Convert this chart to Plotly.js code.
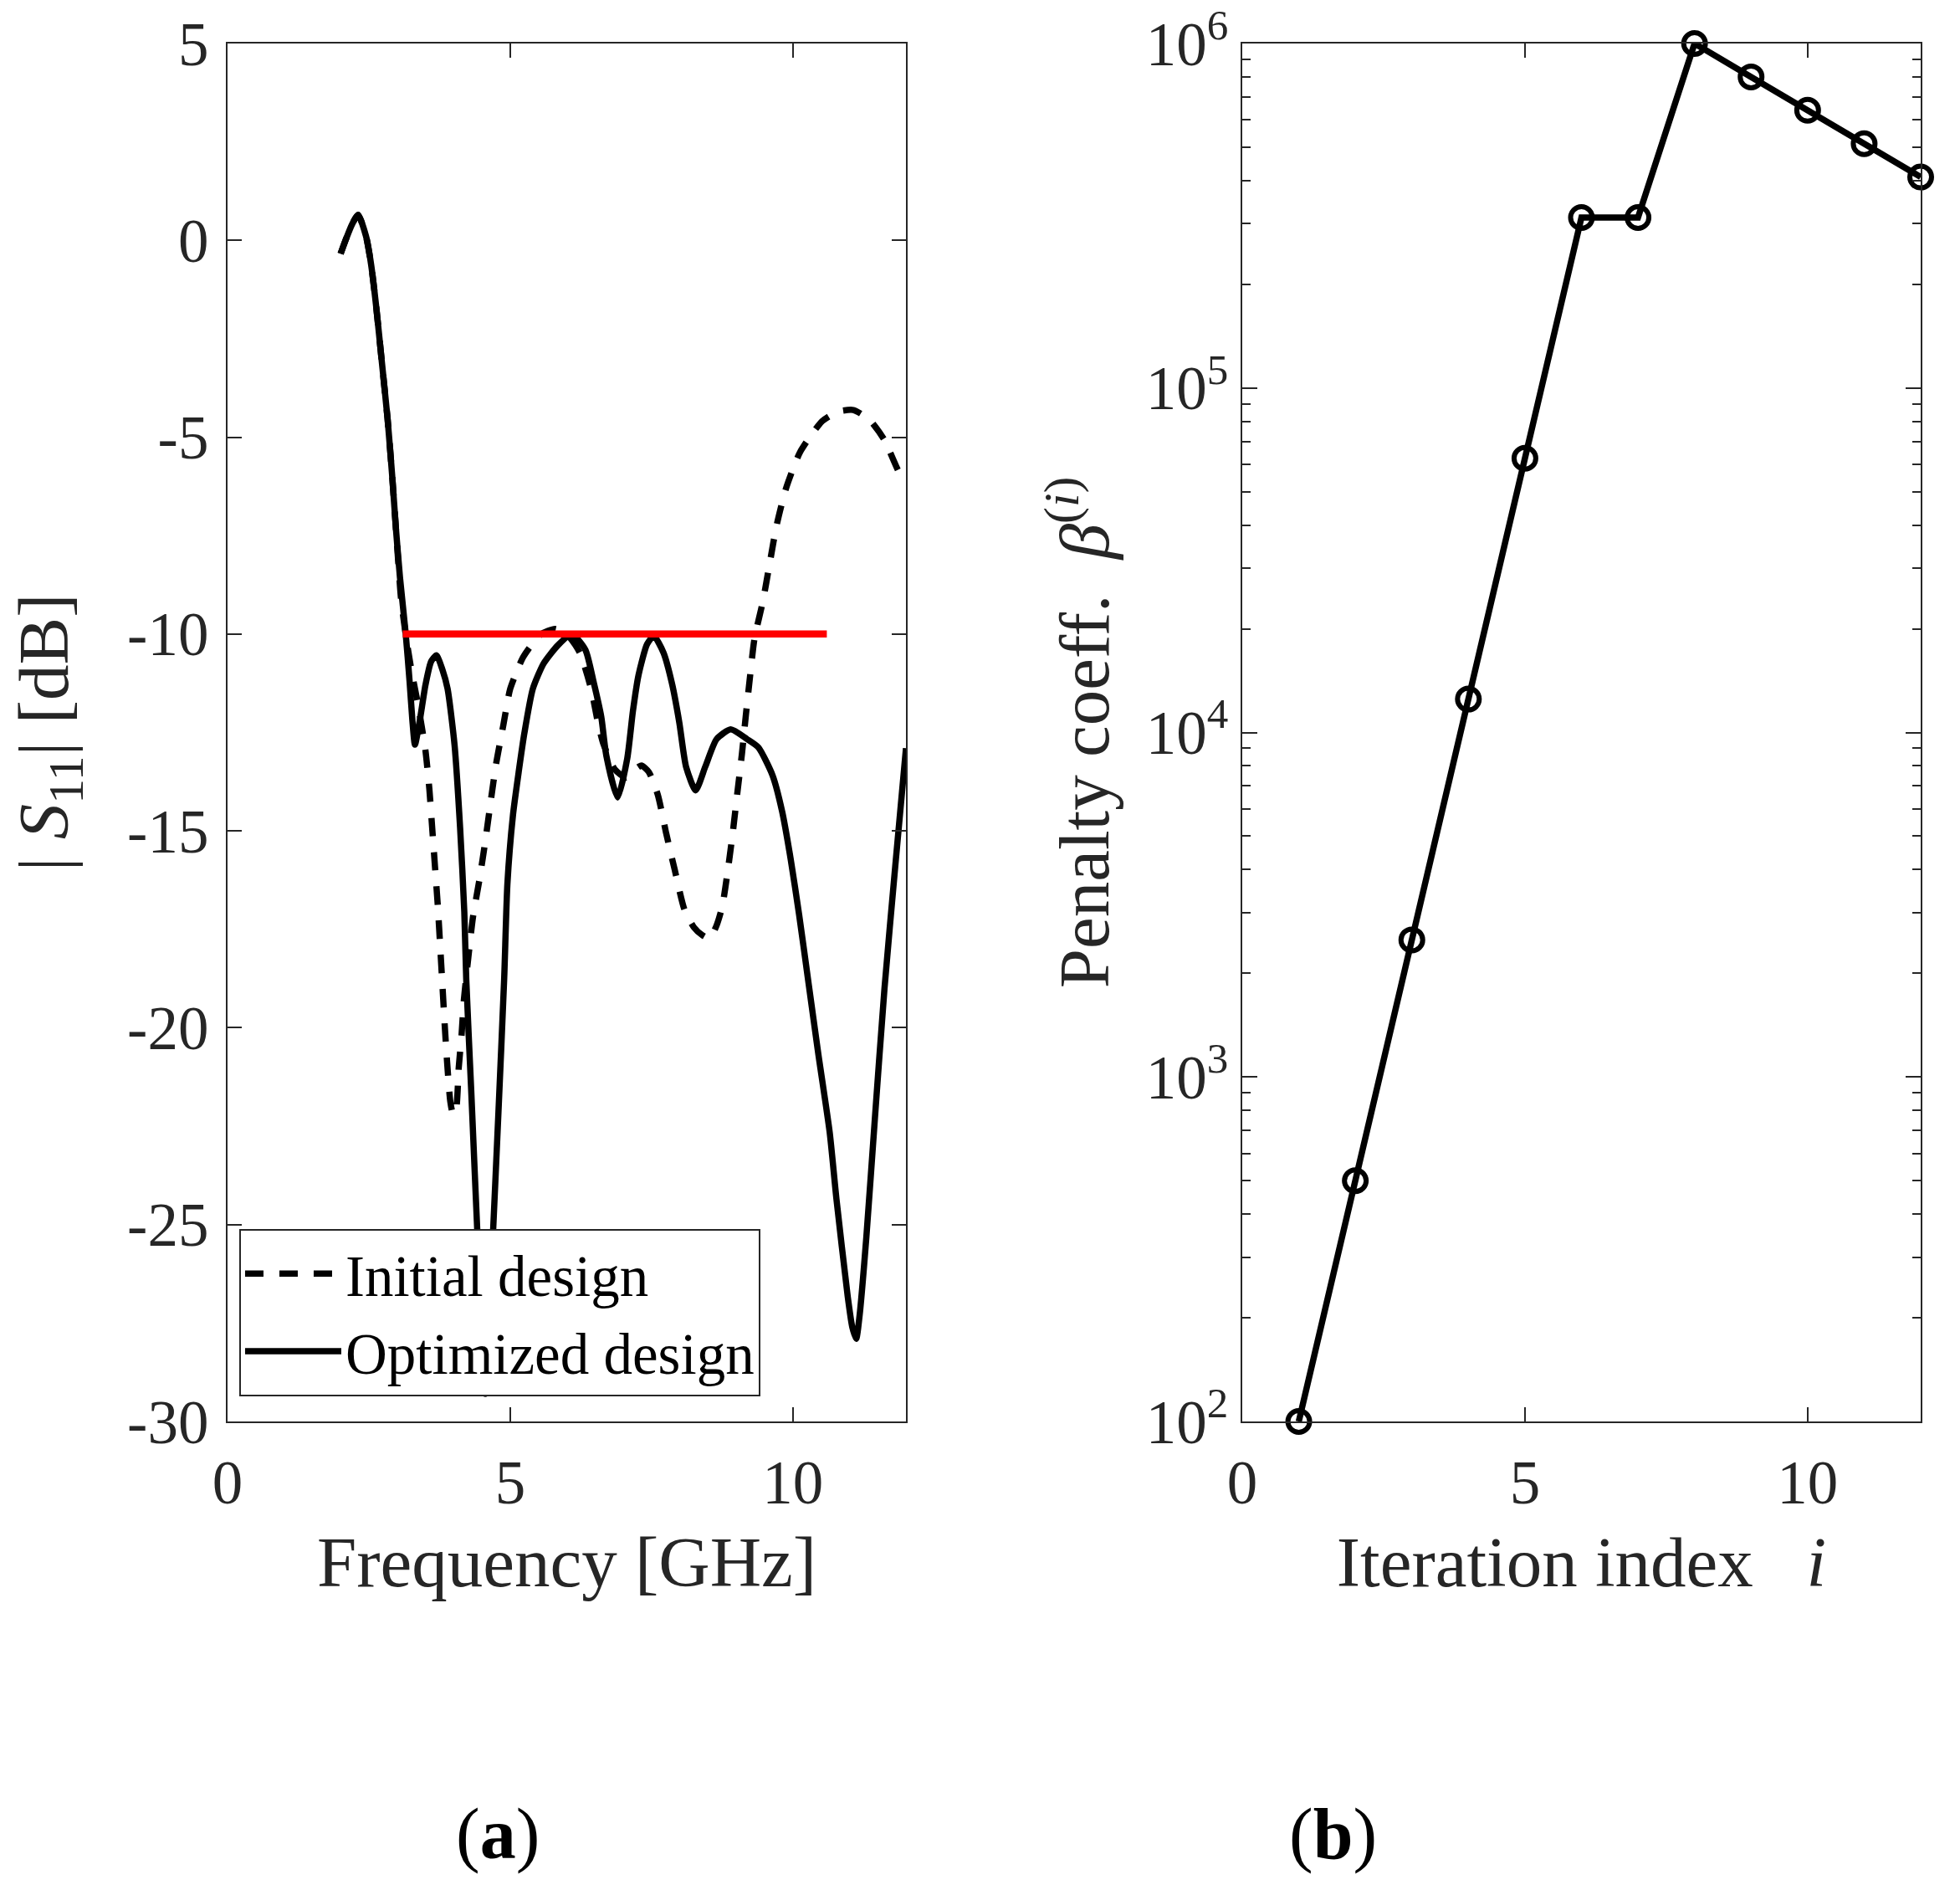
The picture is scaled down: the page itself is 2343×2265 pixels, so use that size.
<!DOCTYPE html>
<html>
<head>
<meta charset="utf-8">
<script src="https://cdn.plot.ly/plotly-3.0.1.min.js"></script>
<style>
  html, body { margin: 0; padding: 0; background: #ffffff; }
  #chart { width: 2343px; height: 2265px; }
</style>
</head>
<body>
<div id="chart"></div>
<script>
// ---- Panel (a): |S11| vs frequency ----
const freqInitial = [2.0, 2.1, 2.2, 2.31, 2.45, 2.54, 2.63, 2.73, 2.83, 2.91, 2.98, 3.07, 3.15, 3.25, 3.37, 3.5, 3.57, 3.62, 3.67, 3.72, 3.76, 3.8, 3.84, 3.88, 3.94, 3.99, 4.04, 4.09, 4.14, 4.18, 4.26, 4.34, 4.46, 4.56, 4.66, 4.75, 4.88, 5.0, 5.22, 5.35, 5.55, 5.79, 6.0, 6.23, 6.43, 6.56, 6.65, 6.85, 7.05, 7.2, 7.32, 7.45, 7.61, 7.76, 7.91, 8.08, 8.25, 8.4, 8.53, 8.65, 8.75, 8.85, 8.94, 9.02, 9.1, 9.17, 9.24, 9.32, 9.47, 9.59, 9.71, 9.88, 10.13, 10.52, 10.8, 11.07, 11.35, 11.61, 11.88, 12.0];
const s11Initial = [-0.34, 0.05, 0.4, 0.65, 0.1, -0.62, -1.69, -3.1, -4.52, -5.94, -7.35, -9.12, -10.0, -10.9, -11.8, -12.95, -13.94, -14.93, -15.92, -16.92, -17.9, -18.9, -19.9, -20.8, -21.87, -22.2, -22.1, -21.0, -20.17, -19.3, -18.2, -17.2, -16.2, -15.25, -14.2, -13.3, -12.3, -11.39, -10.61, -10.33, -10.0, -9.87, -10.0, -10.47, -11.39, -12.31, -12.8, -13.44, -13.65, -13.45, -13.34, -13.5, -14.08, -15.07, -15.99, -16.99, -17.45, -17.65, -17.73, -17.4, -16.92, -15.99, -15.0, -14.0, -13.02, -12.03, -11.1, -10.12, -9.16, -8.2, -7.25, -6.29, -5.37, -4.59, -4.35, -4.31, -4.55, -5.05, -5.9, -6.15];

const freqOptimized = [2.0, 2.1, 2.2, 2.31, 2.45, 2.54, 2.63, 2.73, 2.83, 2.91, 2.98, 3.05, 3.15, 3.22, 3.27, 3.315, 3.4, 3.5, 3.6, 3.695, 3.8, 3.892, 4.015, 4.114, 4.188, 4.222, 4.31, 4.434, 4.56, 4.68, 4.79, 4.893, 4.95, 5.05, 5.15, 5.25, 5.4, 5.59, 5.84, 6.09, 6.33, 6.48, 6.61, 6.7, 6.9, 7.07, 7.17, 7.27, 7.42, 7.54, 7.71, 7.86, 7.99, 8.11, 8.28, 8.45, 8.65, 8.9, 9.19, 9.39, 9.64, 9.81, 9.96, 10.11, 10.28, 10.45, 10.65, 10.77, 10.97, 11.05, 11.12, 11.18, 11.3, 11.45, 11.62, 11.81, 12.0];
const s11Optimized = [-0.34, 0.05, 0.4, 0.65, 0.1, -0.62, -1.69, -3.1, -4.52, -5.94, -7.35, -8.56, -9.97, -11.2, -12.2, -12.81, -12.2, -11.3, -10.7, -10.54, -10.9, -11.39, -12.81, -14.93, -17.06, -18.76, -21.59, -25.7, -29.3, -25.7, -22.2, -18.76, -16.35, -14.58, -13.5, -12.52, -11.39, -10.75, -10.29, -10.0, -10.4, -11.25, -12.1, -13.09, -14.15, -13.16, -11.96, -11.04, -10.26, -10.05, -10.47, -11.25, -12.24, -13.37, -13.97, -13.37, -12.67, -12.42, -12.67, -12.88, -13.59, -14.51, -15.71, -17.13, -18.9, -20.67, -22.65, -24.35, -26.83, -27.6, -27.9, -27.3, -25.3, -22.3, -19.0, -15.9, -12.9];

const specFreq = [3.1, 10.6];
const specLevel = [-10, -10];

const freqTicks = [0, 5, 10];
const s11Ticks = [5, 0, -5, -10, -15, -20, -25, -30];
const s11TickText = ['5', '0', '-5', '-10', '-15', '-20', '-25', '-30'];

// ---- Panel (b): penalty coefficient vs iteration ----
const iteration = [1, 2, 3, 4, 5, 6, 7, 8, 9, 10, 11, 12];
const penaltyCoeff = [100, 500, 2500, 12500, 62500, 312500, 312500, 1000000, 800000, 640000, 512000, 409600];
const iterTicks = [0, 5, 10];
const penaltyTicks = [100, 1000, 10000, 100000, 1000000];
const penaltyTickText = ['10<sup>2</sup>', '10<sup>3</sup>', '10<sup>4</sup>', '10<sup>5</sup>', '10<sup>6</sup>'];

const FONT = 'Liberation Serif, Times New Roman, serif';
const INK = '#262626';

const traces = [
  { x: freqInitial, y: s11Initial, type: 'scatter', mode: 'lines', name: 'Initial design',
    line: { color: '#000000', width: 7.5, dash: '22px,19px', shape: 'spline', smoothing: 0.6 }, xaxis: 'x', yaxis: 'y' },
  { x: freqOptimized, y: s11Optimized, type: 'scatter', mode: 'lines', name: 'Optimized design',
    line: { color: '#000000', width: 7.5, shape: 'spline', smoothing: 0.6 }, xaxis: 'x', yaxis: 'y' },
  { x: specFreq, y: specLevel, type: 'scatter', mode: 'lines', name: 'spec', showlegend: false,
    line: { color: '#ff0000', width: 8.5 }, xaxis: 'x', yaxis: 'y' },
  { x: iteration, y: penaltyCoeff, type: 'scatter', mode: 'lines+markers', showlegend: false,
    line: { color: '#000000', width: 7.5 },
    marker: { symbol: 'circle-open', size: 26, color: '#000000', line: { width: 6, color: '#000000' } },
    xaxis: 'x2', yaxis: 'y2', cliponaxis: false }
];

const axisCommon = {
  showline: true, linewidth: 2, linecolor: INK, mirror: 'ticks',
  ticks: 'inside', ticklen: 17, tickwidth: 2, tickcolor: INK,
  showgrid: false, zeroline: false,
  tickfont: { family: FONT, size: 73, color: INK }
};

const layout = {
  width: 2343, height: 2265,
  margin: { l: 272, r: 47, t: 52, b: 566 },
  paper_bgcolor: '#ffffff', plot_bgcolor: '#ffffff',
  font: { family: FONT, color: INK },
  showlegend: true,
  legend: {
    x: 0.0069, y: 0.0182, xanchor: 'left', yanchor: 'bottom',
    bgcolor: '#ffffff', bordercolor: INK, borderwidth: 2,
    font: { family: FONT, size: 69, color: '#000000' },
    itemwidth: 115, tracegroupgap: 0
  },
  xaxis: Object.assign({}, axisCommon, {
    domain: [0, 0.4007], range: [0, 12], tickvals: freqTicks, anchor: 'y',
    ticklabelstandoff: 8,
    title: { text: 'Frequency [GHz]', font: { family: FONT, size: 85, color: INK }, standoff: 25 }
  }),
  yaxis: Object.assign({}, axisCommon, {
    range: [-30, 5], tickvals: s11Ticks, ticktext: s11TickText, anchor: 'x',
    ticklabelstandoff: 6,
    title: { text: '| <i>S</i><sub>11</sub>| [dB]', font: { family: FONT, size: 85, color: INK }, standoff: 42 }
  }),
  xaxis2: Object.assign({}, axisCommon, {
    domain: [0.5993, 1], range: [0, 12], tickvals: iterTicks, anchor: 'y2',
    ticklabelstandoff: 8,
    title: { text: 'Iteration index\u00a0\u00a0\u00a0<i>i</i>', font: { family: FONT, size: 85, color: INK }, standoff: 25 }
  }),
  yaxis2: Object.assign({}, axisCommon, {
    type: 'log', range: [2, 6], tickvals: penaltyTicks, ticktext: penaltyTickText, anchor: 'x2',
    ticklen: 18,
    minor: { ticks: 'inside', ticklen: 10, tickwidth: 2, tickcolor: INK, dtick: 'D1', showgrid: false },
    title: { text: 'Penalty coeff.\u00a0\u00a0<i>β</i><sup>(<i>i</i>)</sup>', font: { family: FONT, size: 85, color: INK }, standoff: 16 }
  }),
  annotations: [
    { text: '(<b>a</b>)', xref: 'paper', yref: 'paper', x: 0.1596, y: -0.2993,
      xanchor: 'center', yanchor: 'middle', showarrow: false, font: { family: FONT, size: 86, color: '#000000' } },
    { text: '(<b>b</b>)', xref: 'paper', yref: 'paper', x: 0.6527, y: -0.2993,
      xanchor: 'center', yanchor: 'middle', showarrow: false, font: { family: FONT, size: 86, color: '#000000' } }
  ]
};

Plotly.newPlot('chart', traces, layout, { displayModeBar: false, staticPlot: true });
</script>
</body>
</html>
